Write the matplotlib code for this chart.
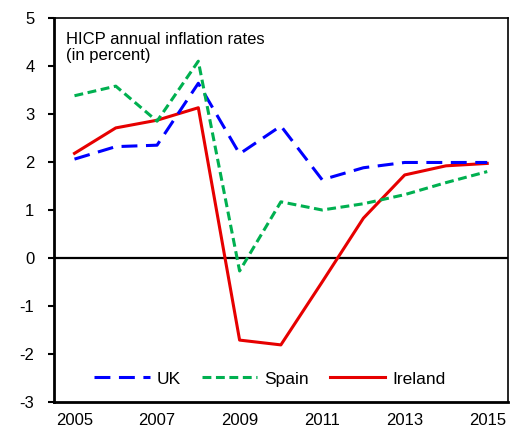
import matplotlib.pyplot as plt
import numpy as np

plt.rcParams['font.family'] = ['Liberation Sans', 'DejaVu Sans']
plt.rcParams['axes.unicode_minus'] = False

years = [2005, 2006, 2007, 2008, 2009, 2010, 2011, 2012, 2013, 2014, 2015]
uk = [2.06, 2.32, 2.35, 3.64, 2.17, 2.75, 1.63, 1.88, 1.99, 1.99, 1.99]
spain = [3.38, 3.58, 2.85, 4.10, -0.27, 1.17, 1.00, 1.13, 1.32, 1.57, 1.80]
ireland = [2.18, 2.71, 2.87, 3.13, -1.71, -1.81, -0.50, 0.83, 1.73, 1.92, 1.97]
xtick_years = [2005, 2007, 2009, 2011, 2013, 2015]

fig = plt.figure(figsize=(5.13, 4.32), dpi=100)
ax = fig.add_axes([0.105, 0.0694, 0.885, 0.889])

x = np.arange(len(years))
ax.axhline(0, color='black', lw=1.6, zorder=1)
ax.plot(x, uk, color='#0000ff', lw=2.2, dashes=(5.2, 2.8), label='UK', zorder=3)
ax.plot(x, spain, color='#00b050', lw=2.2, dashes=(2.9, 1.5), label='Spain', zorder=3)
ax.plot(x, ireland, color='#e60000', lw=2.2, label='Ireland', zorder=2)

ax.set_xlim(-0.5, len(years) - 0.5)
ax.set_ylim(-3, 5)
ax.set_yticks(range(-3, 6))
ax.set_xticks([years.index(y) for y in xtick_years])
ax.set_xticklabels([str(y) for y in xtick_years])
ax.tick_params(axis='x', length=0, pad=8, labelsize=12)
ax.tick_params(axis='y', length=4, width=1.5, direction='out', pad=10, labelsize=12)

ax.spines['left'].set_linewidth(2)
ax.spines['bottom'].set_linewidth(2)
ax.spines['top'].set_linewidth(1.2)
ax.spines['right'].set_linewidth(1.2)

ax.text(0.026, 0.963, 'HICP annual inflation rates\n(in percent)', transform=ax.transAxes,
        ha='left', va='top', fontsize=12, linespacing=1.1)

ax.legend(loc='center', bbox_to_anchor=(0.476, 0.06), ncol=3, frameon=False,
          fontsize=12.5, handlelength=3.2, columnspacing=1.2, handletextpad=0.4,
          borderpad=0, borderaxespad=0)

fig.savefig('out.png', dpi=100)
